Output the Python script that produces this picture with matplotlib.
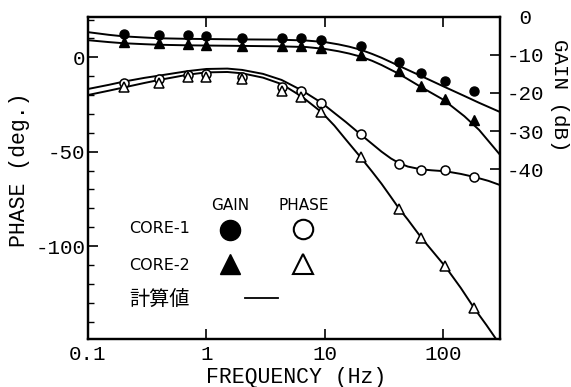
import matplotlib
matplotlib.use("Agg")
import matplotlib.pyplot as plt
from matplotlib.lines import Line2D
from matplotlib.ticker import FixedLocator, FixedFormatter, NullLocator

# ---- measured data ----
freq = [0.2, 0.4, 0.7, 1, 2, 4.3, 6.3, 9.2, 20, 42, 65, 103, 182]
gain_core1 = [-4.7, -4.9, -4.9, -5.2, -5.5, -5.7, -5.7, -6.1, -7.8, -11.8, -14.7, -16.9, -19.6]
gain_core2 = [-6.7, -6.9, -7.1, -7.4, -7.6, -7.7, -7.8, -8.3, -10.2, -14.3, -18.1, -21.5, -27.0]
phase_core1 = [-13.8, -11.5, -9.4, -8.9, -10.3, -15.9, -17.8, -24.4, -40.8, -56.7, -59.7, -59.9, -63.6]
phase_core2 = [-15.6, -13.4, -10.3, -10.3, -11.7, -17.9, -20.9, -29.2, -53.0, -80.6, -95.6, -110.6, -133.0]

# ---- calculated curves (計算値) ----
calc_gain_f = [0.1, 0.15, 0.2, 0.3, 0.4, 0.7, 1, 2, 4, 7, 10, 13, 16, 20, 25, 30, 42, 65, 100, 150, 200, 300]
calc_gain1 = [-4.1, -4.8, -5.2, -5.5, -5.7, -5.85, -5.9, -6.0, -6.05, -6.3, -6.7, -7.3, -7.9, -8.7, -9.8, -10.8, -12.9, -15.6, -18.3, -20.8, -22.6, -25.0]
calc_gain2 = [-6.2, -6.7, -7.0, -7.25, -7.4, -7.55, -7.6, -7.7, -7.8, -8.0, -8.5, -9.1, -9.7, -10.5, -11.6, -12.7, -15.0, -18.5, -21.8, -26.1, -29.7, -36.2]

calc_ph1_f = [0.1, 0.15, 0.2, 0.3, 0.4, 0.7, 1, 1.5, 2, 3, 4.3, 6.4, 9.4, 12, 15, 20, 25, 30, 36, 42, 50, 65, 80, 104, 140, 182, 240, 300]
calc_ph1 = [-16.8, -14.6, -12.9, -10.9, -9.7, -7.3, -6.2, -6.0, -6.7, -8.8, -12.0, -17.6, -24.2, -29.5, -34.3, -40.9, -45.9, -50.0, -53.6, -56.0, -57.9, -59.4, -59.9, -60.4, -61.8, -63.4, -65.5, -67.7]
calc_ph2_f = [0.1, 0.15, 0.2, 0.3, 0.4, 0.7, 1, 1.5, 2, 3, 4.3, 6.4, 9.4, 12, 15, 20, 25, 30, 36, 42, 50, 65, 80, 104, 140, 182, 230, 276]
calc_ph2 = [-20.0, -17.7, -16.0, -13.6, -12.0, -9.2, -8.0, -7.8, -8.5, -10.8, -14.2, -20.9, -29.2, -36.2, -43.6, -53.0, -60.6, -67.0, -74.0, -80.0, -86.0, -95.6, -102.4, -111.0, -122.2, -133.0, -141.8, -149.0]

xticks = [0.1, 1, 10, 100]
xtick_labels = ['0.1', '1', '10', '100']
phase_ticks = [0, -50, -100]
phase_tick_labels = ['0', '-50', '-100']
phase_minor = [20, 10, -10, -20, -30, -40, -60, -70, -80, -90, -110, -120, -130, -140]
gain_ticks = [0, -10, -20, -30, -40]
gain_tick_labels = [' 0', '-10', '-20', '-30', '-40']

MONO = 'Liberation Mono'

fig = plt.figure(figsize=(5.71, 3.87), dpi=100)
ax = fig.add_axes([88/571, 1-338.5/387, 412/571, 322/387])
ax2 = ax.twinx()

ax.set_xscale('log')
ax.set_xlim(0.1, 300)
ax.set_ylim(-149, 21.6)
ax2.set_ylim(-84.3, 0)

lw = 1.4
# calculated lines
ax2.plot(calc_gain_f, calc_gain1, color='black', lw=lw, zorder=2)
ax2.plot(calc_gain_f, calc_gain2, color='black', lw=lw, zorder=2)
ax.plot(calc_ph1_f, calc_ph1, color='black', lw=lw, zorder=2)
ax.plot(calc_ph2_f, calc_ph2, color='black', lw=lw, zorder=2)

# measured markers
ax2.plot(freq, gain_core1, 'o', color='black', ms=6.5, zorder=3)
ax2.plot(freq, gain_core2, '^', color='black', ms=7, zorder=3)
ax.plot(freq, phase_core1, 'o', mfc='white', mec='black', mew=1.1, ms=6.5, zorder=3, ls='none')
ax.plot(freq, phase_core2, '^', mfc='white', mec='black', mew=1.1, ms=7, zorder=4, ls='none')

for a in (ax, ax2):
    for s in a.spines.values():
        s.set_linewidth(1.6)

ax.xaxis.set_major_locator(FixedLocator(xticks))
ax.xaxis.set_major_formatter(FixedFormatter(xtick_labels))
ax.xaxis.set_minor_locator(NullLocator())
ax.yaxis.set_major_locator(FixedLocator(phase_ticks))
ax.yaxis.set_major_formatter(FixedFormatter(phase_tick_labels))
ax.yaxis.set_minor_locator(FixedLocator(phase_minor))
ax2.yaxis.set_major_locator(FixedLocator(gain_ticks))
ax2.yaxis.set_major_formatter(FixedFormatter(gain_tick_labels))
ax2.yaxis.set_minor_locator(NullLocator())

ax.tick_params(axis='x', which='major', direction='in', length=7, width=1.2,
               top=True, bottom=True, labelsize=15, pad=5)
ax.tick_params(axis='y', which='major', direction='in', length=7, width=1.2,
               left=True, right=False, labelsize=15, pad=2)
ax.tick_params(axis='y', which='minor', direction='in', length=4, width=1.0,
               left=True, right=False)
ax2.tick_params(axis='y', which='major', direction='in', length=7, width=1.2,
                labelsize=15, pad=5)
for lab in ax.get_xticklabels() + ax.get_yticklabels() + ax2.get_yticklabels():
    lab.set_fontfamily(MONO)
for lab in ax2.get_yticklabels():
    lab.set_ha('left')

ax.set_xlabel('FREQUENCY (Hz)', fontfamily=MONO, fontsize=15.5, va='center')
ax.xaxis.set_label_coords(0.505, (338.5-377)/322)
ax.set_ylabel('PHASE (deg.)', fontfamily=MONO, fontsize=15.5, va='center', ha='center')
ax.yaxis.set_label_coords((20-88)/412, (338.5-170)/322)
ax2.set_ylabel('GAIN (dB)', fontfamily=MONO, fontsize=15, rotation=270, va='center', ha='center')
ax2.yaxis.set_label_coords((560-88)/412, (338.5-95)/322)

# ---- hand-made legend ----
def fx(px):
    return px / 571
def fy(py):
    return 1 - py / 387

fig.text(fx(230), fy(205), 'GAIN', ha='center', va='center', fontsize=11, family='DejaVu Sans')
fig.text(fx(304), fy(205), 'PHASE', ha='center', va='center', fontsize=11, family='DejaVu Sans')
fig.text(fx(129), fy(228.5), 'CORE-1', ha='left', va='center', fontsize=11.5, family='DejaVu Sans')
fig.text(fx(129), fy(265), 'CORE-2', ha='left', va='center', fontsize=11.5, family='DejaVu Sans')
fig.text(fx(129), fy(299), '計算値', ha='left', va='center', fontsize=14.5,
         family=['Noto Sans CJK JP', 'DejaVu Sans'])
fig.add_artist(Line2D([fx(230)], [fy(229.5)], marker='o', color='black', ms=14.5, ls='none'))
fig.add_artist(Line2D([fx(303)], [fy(228.5)], marker='o', mfc='white', mec='black', mew=1.5, ms=14, ls='none'))
fig.add_artist(Line2D([fx(230)], [fy(264)], marker='^', color='black', ms=15, ls='none'))
fig.add_artist(Line2D([fx(303)], [fy(264)], marker='^', mfc='white', mec='black', mew=1.5, ms=14.5, ls='none'))
fig.add_artist(Line2D([fx(245), fx(278)], [fy(297.5), fy(297.5)], color='black', lw=1.3))

fig.savefig('out.png', dpi=100)
